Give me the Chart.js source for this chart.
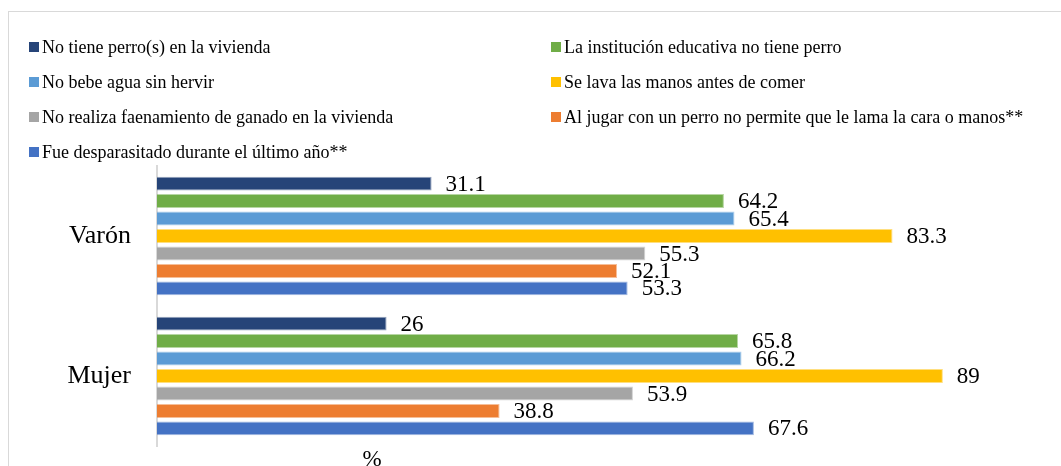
<!DOCTYPE html>
<html>
<head>
<meta charset="utf-8">
<script src="https://cdn.jsdelivr.net/npm/chart.js@4/dist/chart.umd.min.js"></script>
<style>
    html, body { margin: 0; padding: 0; background: #fff; overflow: hidden; }
    #wrap { position: relative; width: 1061px; height: 466px; overflow: hidden; }
    #frame { position: absolute; left: 8px; top: 11px; width: 1200px; height: 600px; border: 1px solid #d9d9d9; box-sizing: border-box; }
    #chart { position: absolute; left: 0; top: 0; }
    .legend-item { position: absolute; display: flex; align-items: center; font-family: "Liberation Serif", "Times New Roman", serif; font-size: 18px; color: #000; white-space: nowrap; line-height: 20px; }
    .legend-box { width: 10px; height: 10px; margin-right: 3px; display: inline-block; }
</style>
</head>
<body>
<div id="wrap">
    <div id="frame"></div>
    <canvas id="chart" width="1061" height="466"></canvas>
    <div id="legend"></div>
</div>
<script>
// Categories (y axis)
const categories = ['Varón', 'Mujer'];

// Series names, in drawing order (top to bottom within each group)
const seriesNames = [
    'No tiene perro(s) en la vivienda',
    'La institución educativa no tiene perro',
    'No bebe agua sin hervir',
    'Se lava las manos antes de comer',
    'No realiza faenamiento de ganado en la vivienda',
    'Al jugar con un perro no permite que le lama la cara o manos**',
    'Fue desparasitado durante el último año**'
];

// Values per category, one per series
const varonValues = [31.1, 64.2, 65.4, 83.3, 55.3, 52.1, 53.3];
const mujerValues = [26, 65.8, 66.2, 89, 53.9, 38.8, 67.6];

const seriesColors = ['#264478', '#70AD47', '#5B9BD5', '#FFC000', '#A5A5A5', '#ED7D31', '#4472C4'];

const serif = '"Liberation Serif", "Times New Roman", serif';

// Build the HTML legend (two columns, row-major like the original)
const legendEl = document.getElementById('legend');
seriesNames.forEach((name, i) => {
    const row = Math.floor(i / 2);
    const col = i % 2;
    const item = document.createElement('div');
    item.className = 'legend-item';
    item.style.left = (29 + col * 522) + 'px';
    item.style.top = (37 + row * 35) + 'px';
    const box = document.createElement('span');
    box.className = 'legend-box';
    box.style.background = seriesColors[i];
    item.appendChild(box);
    item.appendChild(document.createTextNode(name));
    legendEl.appendChild(item);
});

// Value labels at the end of each bar
const valueLabels = {
    id: 'valueLabels',
    afterDatasetsDraw(chart) {
        const ctx = chart.ctx;
        ctx.save();
        ctx.font = '23px ' + serif;
        ctx.fillStyle = '#000';
        ctx.textAlign = 'left';
        ctx.textBaseline = 'middle';
        chart.data.datasets.forEach((ds, i) => {
            const meta = chart.getDatasetMeta(i);
            meta.data.forEach((bar, j) => {
                ctx.fillText(String(ds.data[j]), bar.x + 14, bar.y + 1);
            });
        });
        // axis unit under the plot
        ctx.textAlign = 'center';
        ctx.textBaseline = 'alphabetic';
        ctx.fillText('%', 372, 466);
        ctx.restore();
    }
};

const datasets = seriesNames.map((name, i) => ({
    label: name,
    data: [varonValues[i], mujerValues[i]],
    backgroundColor: seriesColors[i],
    borderColor: seriesColors[i] + '80',
    borderWidth: 1,
    barPercentage: 0.8,
    categoryPercentage: 0.873
}));

new Chart(document.getElementById('chart'), {
    type: 'bar',
    data: { labels: categories, datasets },
    options: {
        indexAxis: 'y',
        responsive: false,
        animation: false,
        layout: { padding: { top: 166, bottom: 20, left: 0, right: 21 } },
        plugins: {
            legend: { display: false },
            tooltip: { enabled: false }
        },
        scales: {
            x: {
                display: false,
                min: 0,
                max: 100
            },
            y: {
                // fixed axis width, no extra label padding
                afterFit: (scale) => {
                    scale.width = 157;
                    scale.paddingTop = 0;
                    scale.paddingBottom = 0;
                },
                grid: { display: false, drawTicks: false },
                border: { display: true, color: '#d9d9d9', width: 2 },
                ticks: {
                    color: '#000',
                    padding: 26,
                    font: { family: serif, size: 26 }
                }
            }
        }
    },
    plugins: [valueLabels]
});
</script>
</body>
</html>
